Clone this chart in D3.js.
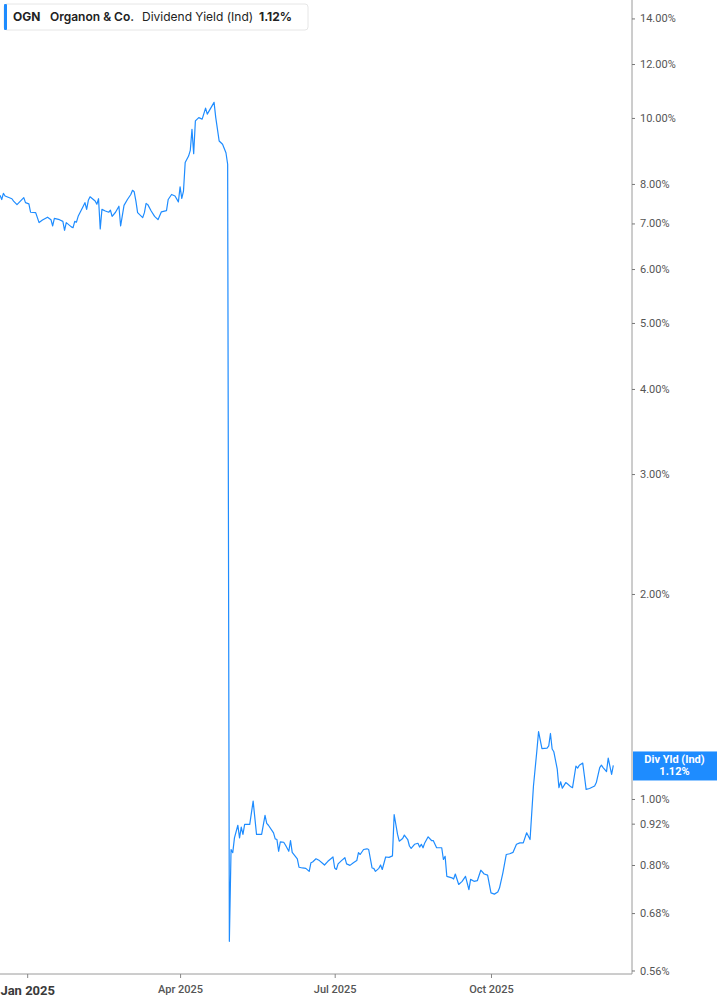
<!DOCTYPE html>
<html>
<head>
<meta charset="utf-8">
<script src="https://cdn.jsdelivr.net/npm/d3@7"></script>
<style>
  html, body { margin: 0; padding: 0; background: #fff; }
  svg { display: block; }
</style>
</head>
<body>
<div id="chart"></div>
<script>
const ticker = 'OGN';
const company = 'Organon & Co.';
const metric = 'Dividend Yield (Ind)';
const lastLabel = '1.12%';

const dates = [
  '2024-12-16','2024-12-17','2024-12-18','2024-12-19','2024-12-23','2024-12-24','2024-12-26','2024-12-30','2024-12-31',
  '2025-01-02','2025-01-03','2025-01-06','2025-01-08','2025-01-10','2025-01-13','2025-01-15','2025-01-16','2025-01-17',
  '2025-01-20','2025-01-22','2025-01-23','2025-01-24','2025-01-27','2025-01-28','2025-01-29','2025-01-30','2025-01-31',
  '2025-02-03','2025-02-04','2025-02-05','2025-02-06','2025-02-07','2025-02-10','2025-02-11','2025-02-12','2025-02-13',
  '2025-02-14','2025-02-16','2025-02-18','2025-02-19','2025-02-20','2025-02-22','2025-02-24','2025-02-25','2025-02-27',
  '2025-03-01','2025-03-03','2025-03-04','2025-03-05','2025-03-06','2025-03-07','2025-03-10','2025-03-11','2025-03-12',
  '2025-03-13','2025-03-15','2025-03-17','2025-03-19','2025-03-21','2025-03-24','2025-03-25','2025-03-27','2025-03-29',
  '2025-03-31','2025-04-01','2025-04-02','2025-04-03','2025-04-04','2025-04-06','2025-04-07','2025-04-08','2025-04-09',
  '2025-04-10','2025-04-12','2025-04-14','2025-04-16','2025-04-17','2025-04-21','2025-04-22','2025-04-24','2025-04-26',
  '2025-04-28','2025-04-29','2025-04-30',
  '2025-05-01','2025-05-02','2025-05-03','2025-05-05','2025-05-06','2025-05-07','2025-05-08','2025-05-09','2025-05-12',
  '2025-05-14','2025-05-16','2025-05-19','2025-05-21','2025-05-22','2025-05-23','2025-05-26','2025-05-27','2025-05-28',
  '2025-05-29','2025-05-30','2025-06-01','2025-06-02','2025-06-04','2025-06-05','2025-06-06','2025-06-09','2025-06-10',
  '2025-06-12','2025-06-14','2025-06-16','2025-06-17','2025-06-18','2025-06-20','2025-06-22','2025-06-24','2025-06-25',
  '2025-06-27','2025-06-30','2025-07-01','2025-07-02','2025-07-03','2025-07-05','2025-07-07','2025-07-08','2025-07-10',
  '2025-07-12','2025-07-14','2025-07-15','2025-07-16','2025-07-18','2025-07-20','2025-07-21','2025-07-23','2025-07-24',
  '2025-07-25','2025-07-27','2025-07-28','2025-07-29','2025-07-31','2025-08-02','2025-08-04','2025-08-05','2025-08-07',
  '2025-08-08','2025-08-10','2025-08-11','2025-08-13','2025-08-14','2025-08-15','2025-08-17','2025-08-19','2025-08-20',
  '2025-08-21','2025-08-22','2025-08-23','2025-08-25','2025-08-27','2025-08-28','2025-08-30','2025-09-02','2025-09-03',
  '2025-09-04','2025-09-05','2025-09-08','2025-09-09','2025-09-10','2025-09-12','2025-09-14','2025-09-16','2025-09-18',
  '2025-09-19','2025-09-21','2025-09-23','2025-09-25','2025-09-27','2025-09-29','2025-10-01','2025-10-03','2025-10-05',
  '2025-10-06','2025-10-08','2025-10-10','2025-10-12','2025-10-14','2025-10-16','2025-10-18','2025-10-20','2025-10-22',
  '2025-10-24','2025-10-26','2025-10-28','2025-10-29','2025-10-31','2025-11-03','2025-11-04','2025-11-05','2025-11-06',
  '2025-11-07','2025-11-09','2025-11-10','2025-11-11','2025-11-12','2025-11-14','2025-11-15','2025-11-17','2025-11-18',
  '2025-11-20','2025-11-21','2025-11-22','2025-11-24','2025-11-25','2025-11-26','2025-11-28','2025-12-01','2025-12-02',
  '2025-12-04','2025-12-05','2025-12-06','2025-12-08','2025-12-09','2025-12-11','2025-12-12'
];

const yields = [
  7.70,7.59,7.75,7.68,7.61,7.55,7.46,7.64,7.51,
  7.48,7.27,7.26,7.02,7.08,7.15,7.09,6.94,7.12,
  7.09,7.05,6.84,7.02,6.92,6.90,7.05,7.03,7.17,
  7.42,7.51,7.34,7.57,7.66,7.55,7.47,7.61,6.87,
  7.34,7.30,7.27,7.32,7.17,7.27,7.42,6.94,7.44,
  7.59,7.72,7.83,7.79,7.55,7.26,7.14,7.26,7.49,
  7.46,7.30,7.17,7.09,7.28,7.31,7.59,7.72,7.68,
  7.53,7.92,7.62,7.81,8.60,8.79,8.96,9.62,8.86,
  9.90,10.01,9.96,10.34,10.13,10.54,10.01,9.25,9.15,
  8.89,8.55,0.618,
  0.843,0.834,0.877,0.915,0.877,0.909,0.887,0.918,0.918,
  0.993,0.887,0.887,0.946,0.921,0.915,0.892,0.874,0.872,
  0.838,0.865,0.864,0.856,0.838,0.869,0.835,0.817,0.794,
  0.792,0.791,0.783,0.806,0.808,0.817,0.812,0.804,0.800,
  0.810,0.822,0.792,0.788,0.803,0.812,0.820,0.803,0.799,
  0.806,0.812,0.834,0.829,0.843,0.845,0.843,0.792,0.791,
  0.783,0.791,0.800,0.788,0.822,0.821,0.825,0.949,0.887,
  0.867,0.875,0.885,0.872,0.853,0.846,0.858,0.861,0.850,
  0.858,0.848,0.862,0.880,0.869,0.869,0.848,0.848,0.815,
  0.824,0.770,0.766,0.763,0.776,0.749,0.757,0.770,0.736,
  0.762,0.757,0.759,0.786,0.776,0.773,0.728,0.725,0.730,
  0.740,0.779,0.829,0.831,0.835,0.858,0.862,0.862,0.892,
  0.872,1.045,1.177,1.256,1.186,1.188,1.197,1.248,1.184,
  1.173,1.106,1.039,1.060,1.037,1.057,1.053,1.042,1.039,
  1.118,1.110,1.121,1.129,1.081,1.033,1.036,1.045,1.057,
  1.112,1.121,1.112,1.097,1.148,1.087,1.12
];

const yTicks = [0.56, 0.68, 0.80, 0.92, 1.00, 2, 3, 4, 5, 6, 7, 8, 10, 12, 14];
const xTicks = ['2025-01-01', '2025-04-01', '2025-07-01', '2025-10-01'];
const xDomain = ['2024-12-16', '2025-12-23'];
const yDomain = [0.5534, 14.9];

const W = 717, H = 1005;
const plotRight = 632, plotBottom = 974;
const blue = '#1e8cff';

const parse = d3.timeParse('%Y-%m-%d');
const data = dates.map((d, i) => ({ date: parse(d), value: yields[i] }));

const svg = d3.select('#chart').append('svg')
  .attr('width', W)
  .attr('height', H);

const x = d3.scaleTime()
  .domain(xDomain.map(parse))
  .range([0, plotRight]);

const y = d3.scaleLog()
  .domain(yDomain)
  .range([plotBottom, 0]);

// right axis
const yAxis = d3.axisRight(y)
  .tickValues(yTicks)
  .tickSize(3)
  .tickPadding(5)
  .tickFormat(d => d3.format('.2f')(d) + '%');

const gy = svg.append('g')
  .attr('transform', `translate(${plotRight},0)`)
  .call(yAxis);
gy.select('.domain').attr('stroke', '#9a9a9a').attr('d', `M0,0V${plotBottom}`);
gy.selectAll('.tick line').attr('stroke', '#777');
gy.selectAll('.tick text')
  .attr('fill', '#555')
  .style('font-family', 'Roboto, "Liberation Sans", sans-serif')
  .style('font-size', '11px');

// bottom axis
const xAxis = d3.axisBottom(x)
  .tickValues(xTicks.map(parse))
  .tickSize(4)
  .tickPadding(7)
  .tickFormat(d3.timeFormat('%b %Y'));

const gx = svg.append('g')
  .attr('transform', `translate(0,${plotBottom})`)
  .call(xAxis);
gx.select('.domain').attr('stroke', '#9a9a9a').attr('d', `M0,0H${plotRight}`);
gx.selectAll('.tick line').attr('stroke', '#888');
gx.selectAll('.tick text')
  .attr('fill', '#555')
  .style('font-family', 'Roboto, "Liberation Sans", sans-serif')
  .style('font-size', '11px')
  .style('font-weight', 500);
gx.selectAll('.tick text')
  .filter(d => d.getMonth() === 0)
  .attr('fill', '#3a3a3a')
  .attr('dy', '0.8em')
  .style('font-size', '13px')
  .style('font-weight', 700);

// the series
const line = d3.line()
  .x(d => x(d.date))
  .y(d => y(d.value));

svg.append('path')
  .datum(data)
  .attr('fill', 'none')
  .attr('stroke', blue)
  .attr('stroke-width', 1.2)
  .attr('stroke-linejoin', 'round')
  .attr('d', line);

// last value tag on the axis
const last = data[data.length - 1];
const tag = svg.append('g')
  .attr('transform', `translate(${plotRight + 1},${y(last.value)})`);
tag.append('rect')
  .attr('x', 0).attr('y', -14)
  .attr('width', W - plotRight).attr('height', 29)
  .attr('fill', blue);
tag.append('text')
  .attr('x', (W - plotRight) / 2 - 1).attr('y', -2)
  .attr('text-anchor', 'middle')
  .attr('fill', '#fff')
  .style('font-family', 'Roboto, "Liberation Sans", sans-serif')
  .style('font-size', '11px')
  .style('font-weight', 700)
  .text('Div Yld (Ind)');
tag.append('text')
  .attr('x', (W - plotRight) / 2 - 1).attr('y', 10)
  .attr('text-anchor', 'middle')
  .attr('fill', '#fff')
  .style('font-family', 'Roboto, "Liberation Sans", sans-serif')
  .style('font-size', '11px')
  .style('font-weight', 700)
  .text(lastLabel);

// legend box
const legend = svg.append('g').attr('transform', 'translate(4,4)');
legend.append('rect')
  .attr('width', 304).attr('height', 26)
  .attr('rx', 3)
  .attr('fill', '#fff')
  .attr('stroke', '#e6e6e6');
legend.append('rect')
  .attr('x', 0).attr('y', 0)
  .attr('width', 3).attr('height', 26)
  .attr('rx', 1)
  .attr('fill', blue);

const legendText = legend.append('text')
  .attr('y', 17)
  .attr('fill', '#222')
  .style('font-family', 'Inter, "Noto Sans", sans-serif')
  .style('font-size', '12px');
legendText.append('tspan').attr('x', 9).style('font-weight', 700).text(ticker);
legendText.append('tspan').attr('x', 46).style('font-weight', 600).text(company);
legendText.append('tspan').attr('x', 138).style('font-weight', 400).text(metric);
legendText.append('tspan').attr('x', 255).style('font-weight', 700).text(lastLabel);
</script>
</body>
</html>
